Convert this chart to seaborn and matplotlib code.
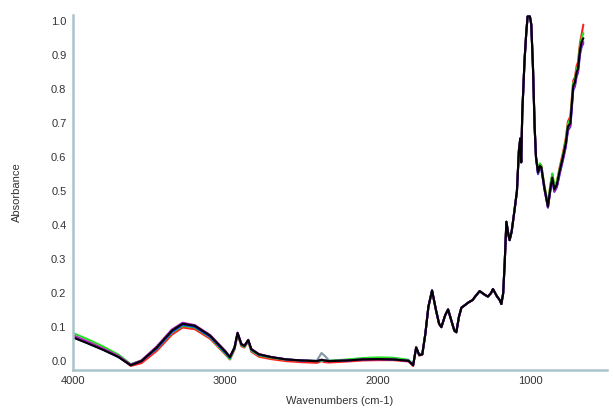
import numpy as np
import pandas as pd
import matplotlib
matplotlib.use("Agg")
import matplotlib.pyplot as plt
import seaborn as sns
from matplotlib.ticker import MultipleLocator, FixedLocator, FormatStrFormatter

# Wavenumber grid (cm-1), shared by all spectra
wavenumbers = [
    4000, 3900, 3800, 3700, 3620, 3550, 3450, 3350, 3280, 3200,
    3100, 3000, 2970, 2940, 2920, 2895, 2875, 2850, 2830, 2780,
    2700, 2600, 2500, 2400, 2370, 2350, 2320, 2200, 2100, 2000,
    1900, 1800, 1770, 1750, 1730, 1710, 1690, 1670, 1646, 1620,
    1600, 1585, 1560, 1541, 1520, 1500, 1487, 1470, 1454, 1430,
    1410, 1380, 1360, 1334, 1300, 1280, 1260, 1247, 1220, 1203,
    1192, 1180, 1170, 1159, 1145, 1138, 1125, 1116, 1105, 1090,
    1077, 1068, 1062, 1055, 1040, 1029, 1020, 1005, 996, 985,
    974, 965, 952, 940, 930, 910, 887, 870, 858, 845,
    828, 810, 789, 770, 756, 740, 721, 710, 699, 690,
    677, 666, 655,
]

# 4000-1620 cm-1 section of each spectrum
head_black = [
    0.070, 0.052, 0.033, 0.012, -0.012, 0.000, 0.040, 0.090, 0.110, 0.104,
    0.075, 0.028, 0.012, 0.040, 0.083, 0.050, 0.045, 0.062, 0.035, 0.020,
    0.012, 0.005, 0.002, 0.000, 0.004, 0.002, 0.000, 0.002, 0.005, 0.006,
    0.005, 0.001, -0.012, 0.040, 0.018, 0.020, 0.080, 0.160, 0.208, 0.150,
]
head_red = [
    0.075, 0.056, 0.036, 0.014, -0.014, -0.006, 0.030, 0.078, 0.099, 0.094,
    0.066, 0.020, 0.005, 0.034, 0.078, 0.044, 0.040, 0.058, 0.028, 0.013,
    0.006, 0.000, -0.003, -0.005, 0.000, -0.003, -0.004, -0.001, 0.002, 0.003,
    0.003, -0.001, -0.014, 0.042, 0.016, 0.019, 0.080, 0.158, 0.206, 0.148,
]
head_green = [
    0.083, 0.064, 0.043, 0.019, -0.009, 0.002, 0.036, 0.084, 0.104, 0.099,
    0.070, 0.022, 0.006, 0.036, 0.080, 0.047, 0.042, 0.059, 0.031, 0.017,
    0.010, 0.004, 0.002, 0.000, 0.001, 0.001, 0.001, 0.005, 0.009, 0.011,
    0.010, 0.004, -0.010, 0.041, 0.018, 0.020, 0.080, 0.160, 0.207, 0.150,
]
head_blue = [
    0.072, 0.053, 0.034, 0.012, -0.012, 0.000, 0.037, 0.086, 0.107, 0.101,
    0.072, 0.025, 0.010, 0.039, 0.082, 0.049, 0.044, 0.061, 0.034, 0.019,
    0.012, 0.005, 0.002, 0.000, 0.004, 0.002, 0.000, 0.002, 0.005, 0.006,
    0.005, 0.001, -0.012, 0.040, 0.018, 0.020, 0.080, 0.160, 0.208, 0.150,
]
head_magenta = [
    0.076, 0.057, 0.037, 0.015, -0.010, 0.002, 0.043, 0.093, 0.113, 0.106,
    0.077, 0.030, 0.013, 0.041, 0.084, 0.051, 0.046, 0.063, 0.036, 0.021,
    0.012, 0.005, 0.002, 0.000, 0.004, 0.002, 0.000, 0.002, 0.005, 0.006,
    0.005, 0.001, -0.012, 0.040, 0.018, 0.020, 0.080, 0.160, 0.208, 0.150,
]
head_gray = [
    0.071, 0.053, 0.034, 0.013, -0.011, 0.001, 0.041, 0.091, 0.111, 0.105,
    0.076, 0.029, 0.012, 0.040, 0.083, 0.050, 0.045, 0.062, 0.035, 0.020,
    0.012, 0.005, 0.002, 0.002, 0.024, 0.016, 0.002, 0.002, 0.005, 0.006,
    0.005, 0.001, -0.012, 0.040, 0.018, 0.020, 0.080, 0.160, 0.208, 0.150,
]

# 1600-985 cm-1 section, common to all spectra
mid_common = [
    0.110, 0.100, 0.135, 0.152, 0.120, 0.090, 0.085, 0.130, 0.157, 0.165,
    0.172, 0.180, 0.192, 0.206, 0.195, 0.190, 0.200, 0.212, 0.190, 0.180,
    0.168, 0.200, 0.290, 0.410, 0.370, 0.356, 0.380, 0.410, 0.447, 0.500,
    0.620, 0.655, 0.585, 0.730, 0.886, 0.965, 1.014, 1.014, 0.990, 0.866,
]

# 974-655 cm-1 section of each spectrum
tail_black = [
    0.690, 0.600, 0.555, 0.575, 0.570, 0.510, 0.455, 0.510, 0.540, 0.505,
    0.520, 0.560, 0.600, 0.640, 0.690, 0.700, 0.810, 0.820, 0.850, 0.860,
    0.915, 0.940, 0.950,
]
tail_red = [
    0.690, 0.600, 0.560, 0.580, 0.575, 0.515, 0.462, 0.520, 0.550, 0.512,
    0.528, 0.570, 0.612, 0.655, 0.705, 0.720, 0.826, 0.835, 0.868, 0.880,
    0.935, 0.962, 0.990,
]
tail_green = [
    0.690, 0.600, 0.560, 0.582, 0.575, 0.515, 0.460, 0.522, 0.552, 0.515,
    0.530, 0.565, 0.605, 0.648, 0.698, 0.712, 0.818, 0.828, 0.858, 0.868,
    0.925, 0.950, 0.965,
]
tail_blue = [
    0.688, 0.598, 0.550, 0.570, 0.565, 0.505, 0.452, 0.505, 0.533, 0.498,
    0.512, 0.550, 0.590, 0.630, 0.678, 0.690, 0.798, 0.808, 0.838, 0.848,
    0.902, 0.925, 0.935,
]
tail_magenta = [
    0.690, 0.600, 0.553, 0.572, 0.567, 0.507, 0.452, 0.505, 0.535, 0.500,
    0.515, 0.553, 0.593, 0.633, 0.682, 0.694, 0.802, 0.812, 0.842, 0.852,
    0.908, 0.930, 0.940,
]
tail_gray = tail_black

spectra = {
    "gray": head_gray + mid_common + tail_gray,
    "red": head_red + mid_common + tail_red,
    "green": head_green + mid_common + tail_green,
    "blue": head_blue + mid_common + tail_blue,
    "magenta": head_magenta + mid_common + tail_magenta,
    "black": head_black + mid_common + tail_black,
}
colors = {
    "gray": "#7f9aa3",
    "red": "#ff2020",
    "green": "#22e022",
    "blue": "#2030ff",
    "magenta": "#b020c0",
    "black": "#000000",
}

frames = []
for name, values in spectra.items():
    frames.append(pd.DataFrame({"wn": wavenumbers, "abs": values, "sample": name}))
df = pd.concat(frames, ignore_index=True)

sns.set_style("white")
plt.rcParams["font.family"] = ["Liberation Sans", "DejaVu Sans"]

fig = plt.figure(figsize=(6.13, 4.09), dpi=100)
ax = fig.add_axes([0.1186, 0.0954, 0.8716, 0.8676])

sns.lineplot(
    data=df, x="wn", y="abs", hue="sample", hue_order=list(spectra.keys()),
    palette=colors, sort=False, estimator=None, linewidth=1.5, legend=False, ax=ax,
)

ax.set_xlim(4000, 500)
ax.set_ylim(-0.026, 1.018)

spine_color = "#a9c4cb"
for side in ["top", "right"]:
    ax.spines[side].set_visible(False)
for side in ["left", "bottom"]:
    ax.spines[side].set_color(spine_color)
    ax.spines[side].set_linewidth(1.8)

ax.xaxis.set_major_locator(FixedLocator([4000, 3000, 2000, 1000]))
ax.xaxis.set_minor_locator(MultipleLocator(200))
ax.yaxis.set_major_locator(MultipleLocator(0.1))
ax.yaxis.set_minor_locator(MultipleLocator(0.02))
ax.yaxis.set_major_formatter(FormatStrFormatter("%.1f"))
ax.xaxis.set_major_formatter(FormatStrFormatter("%d"))

ax.tick_params(axis="both", which="major", direction="out", length=3, width=1,
               color="#444444", labelsize=8, labelcolor="#333333", pad=1.5)
ax.tick_params(axis="both", which="minor", direction="inout", length=2, width=1,
               color="#555555")

ax.set_xlabel("Wavenumbers (cm-1)", fontsize=8, color="#333333", labelpad=7)
ax.set_ylabel("Absorbance", fontsize=8, color="#333333", labelpad=21)

fig.savefig("out.png", dpi=100)
